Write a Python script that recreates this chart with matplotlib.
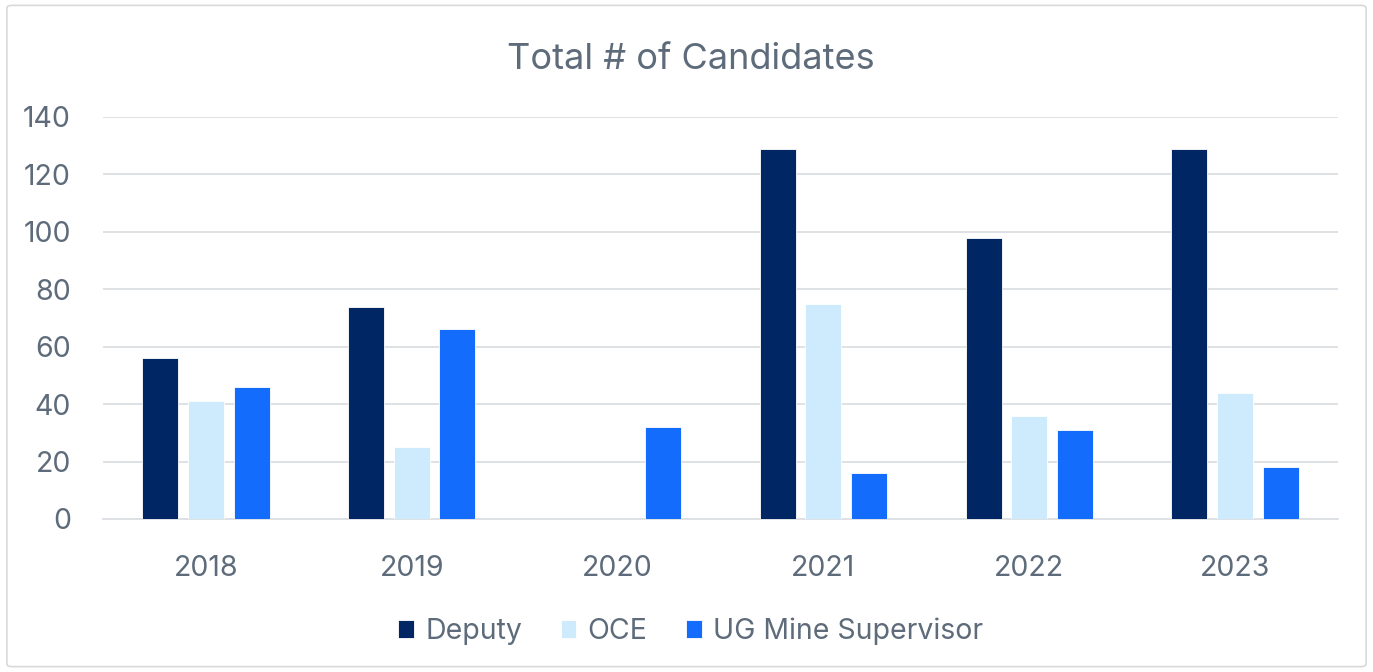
import numpy as np
import matplotlib.pyplot as plt
from matplotlib.patches import FancyBboxPatch

years = ['2018', '2019', '2020', '2021', '2022', '2023']
deputy = [56, 74, 0, 129, 98, 129]
oce = [41, 25, 0, 75, 36, 44]
ug_supervisor = [46, 66, 32, 16, 31, 18]
series_names = ['Deputy', 'OCE', 'UG Mine Supervisor']
colors = ['#002664', '#cdebfc', '#146cfd']

plt.rcParams['font.family'] = ['Inter', 'DejaVu Sans']
text_color = '#5d6b7a'

fig = plt.figure(figsize=(13.73, 6.72), dpi=100)
ax = fig.add_axes([0.075, 0.2277, 0.8995, 0.5982])

x = np.arange(len(years))
width = 0.175
pitch = 0.222
for i, (vals, name, c) in enumerate(zip([deputy, oce, ug_supervisor], series_names, colors)):
    ax.bar(x + (i - 1) * pitch, vals, width, color=c, label=name,
           edgecolor='white', linewidth=0.6, zorder=3)

ax.set_xlim(-0.5, len(years) - 0.5)
ax.set_ylim(0, 140)
ax.set_yticks(range(0, 141, 20))
ax.set_xticks(x)
ax.set_xticklabels(years)
ax.grid(axis='y', color='#dcdfe3', linewidth=1.3, zorder=0)
for s in ['top', 'right', 'left']:
    ax.spines[s].set_visible(False)
ax.spines['bottom'].set_color('#dcdfe3')
ax.spines['bottom'].set_linewidth(1.3)
ax.tick_params(axis='both', length=0, labelsize=20.5, colors=text_color)
ax.tick_params(axis='x', pad=26)
ax.tick_params(axis='y', pad=23)

fig.text(0.503, 0.912, 'Total # of Candidates', ha='center', va='center',
         fontsize=26, color=text_color)

leg = fig.legend(loc='center', bbox_to_anchor=(0.503, 0.06), ncol=3, frameon=False,
                 fontsize=20.5, handlelength=0.55, handleheight=0.6,
                 handletextpad=0.4, columnspacing=1.35)
for t in leg.get_texts():
    t.set_color(text_color)

border = FancyBboxPatch((0.005, 0.008), 0.99, 0.984, boxstyle='round,pad=0,rounding_size=0.004',
                        transform=fig.transFigure, fill=False, edgecolor='#d9d9d9', linewidth=1.2)
fig.patches.append(border)

plt.savefig('out.png', dpi=100)
